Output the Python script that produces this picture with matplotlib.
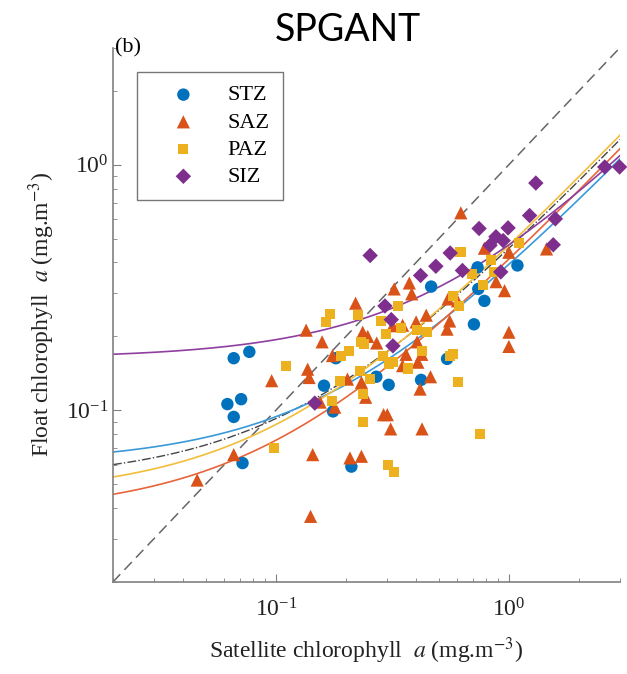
import numpy as np
import matplotlib.pyplot as plt

plt.rcParams['font.family'] = 'Liberation Serif'
plt.rcParams['mathtext.fontset'] = 'stix'

# satellite (x) vs float (y) chlorophyll a, mg.m-3
stz_x = [0.066, 0.077, 0.062, 0.071, 0.066, 0.072, 0.181, 0.161, 0.176, 0.211,
         0.270, 0.305, 0.420, 0.543, 0.464, 0.734, 0.739, 0.785, 0.708, 1.088]
stz_y = [0.163, 0.173, 0.106, 0.111, 0.094, 0.061, 0.163, 0.126, 0.099, 0.059,
         0.137, 0.127, 0.133, 0.162, 0.319, 0.382, 0.312, 0.279, 0.224, 0.389]

saz_x = [0.046, 0.066, 0.096, 0.135, 0.137, 0.139, 0.144, 0.141, 0.158, 0.175,
         0.179, 0.155, 0.203, 0.208, 0.233, 0.233, 0.243, 0.236, 0.248, 0.271,
         0.290, 0.301, 0.311, 0.350, 0.362, 0.404, 0.407, 0.423, 0.416, 0.461,
         0.424, 0.543, 1.000, 1.000, 0.220, 0.322, 0.374, 0.383, 0.317, 0.350,
         0.400, 0.442, 0.548, 0.557, 0.602, 0.622, 0.785, 0.881, 0.958, 1.000,
         1.450]
saz_y = [0.052, 0.066, 0.132, 0.212, 0.147, 0.136, 0.066, 0.037, 0.190, 0.167,
         0.103, 0.108, 0.134, 0.064, 0.065, 0.130, 0.113, 0.208, 0.200, 0.188,
         0.096, 0.096, 0.084, 0.152, 0.169, 0.190, 0.157, 0.169, 0.122, 0.137,
         0.084, 0.214, 0.208, 0.182, 0.273, 0.312, 0.330, 0.298, 0.221, 0.222,
         0.229, 0.244, 0.284, 0.231, 0.279, 0.637, 0.457, 0.334, 0.307, 0.440,
         0.454]

paz_x = [0.098, 0.111, 0.191, 0.206, 0.189, 0.175, 0.236, 0.236, 0.254, 0.229,
         0.303, 0.320, 0.306, 0.288, 0.296, 0.369, 0.424, 0.557, 0.576, 0.606,
         0.749, 0.231, 0.238, 0.171, 0.164, 0.225, 0.336, 0.282, 0.344, 0.404,
         0.446, 0.576, 0.612, 0.692, 0.836, 0.861, 1.105, 0.620, 0.772, 0.317]
paz_y = [0.070, 0.151, 0.167, 0.174, 0.132, 0.109, 0.117, 0.090, 0.134, 0.144,
         0.060, 0.056, 0.154, 0.167, 0.204, 0.148, 0.175, 0.167, 0.169, 0.130,
         0.080, 0.190, 0.187, 0.247, 0.229, 0.244, 0.267, 0.231, 0.216, 0.212,
         0.209, 0.291, 0.265, 0.359, 0.408, 0.367, 0.479, 0.440, 0.324, 0.158]

siz_x = [0.254, 0.294, 0.313, 0.318, 0.147, 0.418, 0.486, 0.560, 0.632, 0.745,
         0.830, 0.880, 0.945, 0.992, 0.923, 1.227, 1.305, 1.582, 1.550, 2.578,
         2.985]
siz_y = [0.427, 0.266, 0.234, 0.183, 0.107, 0.354, 0.386, 0.437, 0.371, 0.550,
         0.470, 0.509, 0.491, 0.553, 0.366, 0.621, 0.842, 0.602, 0.472, 0.979,
         0.979]

# linear fits y = c + m*x
fit_c = {'STZ': 0.061, 'SAZ': 0.038, 'PAZ': 0.045, 'SIZ': 0.163, 'all': 0.052}
fit_m = {'STZ': 0.332, 'SAZ': 0.375, 'PAZ': 0.425, 'SIZ': 0.309, 'all': 0.405}

colors = {'STZ': '#0072BD', 'SAZ': '#D95319', 'PAZ': '#EDB120', 'SIZ': '#7E2F8E'}
line_colors = {'STZ': '#3a9ad9', 'SAZ': '#e8643a', 'PAZ': '#f2bd3a', 'SIZ': '#8e3fa0'}

fig = plt.figure(figsize=(6.27, 6.74), dpi=100)
ax = fig.add_axes([0.180, 0.1365, 0.809, 0.793])
ax.set_xscale('log')
ax.set_yscale('log')
lim = (0.02, 3)
ax.set_xlim(lim)
ax.set_ylim(lim)

xs = np.logspace(np.log10(lim[0]), np.log10(lim[1]), 200)
ax.plot(lim, lim, '--', color='#666666', lw=1.1, dashes=(7, 4))
ax.plot(xs, fit_c['all'] + fit_m['all'] * xs, '-.', color='#444444', lw=1.0)
for z in ['STZ', 'SAZ', 'PAZ', 'SIZ']:
    ax.plot(xs, fit_c[z] + fit_m[z] * xs, '-', color=line_colors[z], lw=1.2)

kw = dict(edgecolor='none', clip_on=False, zorder=3)
ax.scatter(stz_x, stz_y, marker='o', s=80, color=colors['STZ'], label='STZ', **kw)
ax.scatter(saz_x, saz_y, marker='^', s=90, color=colors['SAZ'], label='SAZ', **kw)
ax.scatter(paz_x, paz_y, marker='s', s=52, color=colors['PAZ'], label='PAZ', **kw)
ax.scatter(siz_x, siz_y, marker='D', s=62, color=colors['SIZ'], label='SIZ', **kw)

for side in ['top', 'right']:
    ax.spines[side].set_visible(False)
for side in ['left', 'bottom']:
    ax.spines[side].set_color('#808080')
    ax.spines[side].set_linewidth(1.2)
ax.tick_params(which='both', direction='in', colors='#808080', labelcolor='#222222')
ax.tick_params(which='major', length=6, labelsize=17)
ax.tick_params(axis='x', which='major', pad=12)
ax.tick_params(which='minor', length=3)

ax.set_xlabel(r'Satellite chlorophyll  $\mathit{a}$ (mg.m$^{-3}$)', fontsize=17, color='#222222', labelpad=10)
ax.set_ylabel(r'Float chlorophyll  $\mathit{a}$ (mg.m$^{-3}$)', fontsize=17, color='#222222', labelpad=6)

leg = ax.legend(loc='upper left', bbox_to_anchor=(0.047, 0.955), borderaxespad=0,
                fontsize=16, frameon=True, fancybox=False, handletextpad=0.5,
                borderpad=0.6, labelspacing=0.3, handlelength=3.0)
leg.get_frame().set_edgecolor('#555555')
leg.get_frame().set_linewidth(1.0)

ax.text(0.005, 1.0, '(b)', transform=ax.transAxes, fontsize=16, va='center', ha='left')
fig.text(0.555, 0.955, 'SPGANT', fontsize=27, family='Lato', ha='center', va='center')

fig.savefig('out.png', dpi=100)
